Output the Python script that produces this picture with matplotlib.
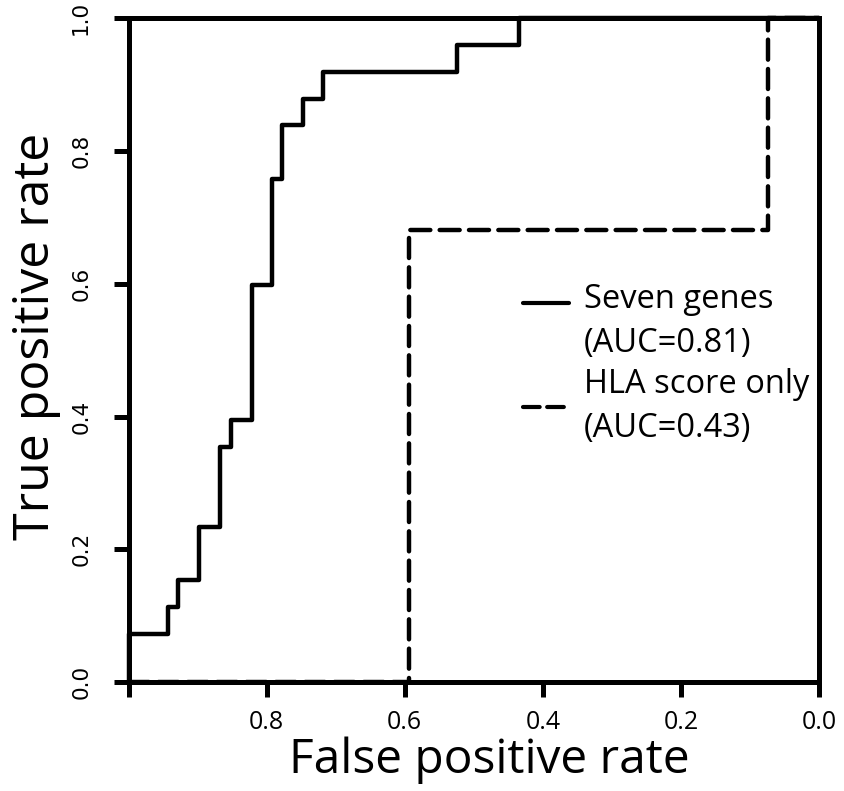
import matplotlib
matplotlib.use("Agg")
import matplotlib.pyplot as plt
from matplotlib.lines import Line2D
from matplotlib.legend_handler import HandlerLine2D

# ROC points (x axis shown reversed, 1.0 -> 0.0)
seven_x = [1.0, 0.9425, 0.928, 0.898, 0.868, 0.852, 0.822, 0.793, 0.778, 0.747, 0.718, 0.525, 0.434, 0.0]
seven_y = [0.0, 0.073, 0.113, 0.154, 0.234, 0.354, 0.395, 0.598, 0.758, 0.839, 0.879, 0.919, 0.959, 1.0]

hla_x = [1.0, 0.594, 0.074, 0.0]
hla_y = [0.0, 0.0, 0.681, 1.0]

labels = ["Seven genes\n(AUC=0.81)", "HLA score only\n(AUC=0.43)"]
xticks = [1.0, 0.8, 0.6, 0.4, 0.2, 0.0]
xticklabels = ["", "0.8", "0.6", "0.4", "0.2", "0.0"]
yticks = [0.0, 0.2, 0.4, 0.6, 0.8, 1.0]
yticklabels = ["0.0", "0.2", "0.4", "0.6", "0.8", "1.0"]

txt_font = ["Open Sans", "DejaVu Sans"]


class ShiftedLine(HandlerLine2D):
    # legend key moved up by dy points
    def __init__(self, dy=0, **kw):
        super().__init__(**kw)
        self.dy = dy

    def create_artists(self, legend, orig_handle, xdescent, ydescent, width, height, fontsize, trans):
        return super().create_artists(legend, orig_handle, xdescent, ydescent - 2 * self.dy,
                                      width, height, fontsize, trans)


fig = plt.figure(figsize=(8.44, 7.91), dpi=100)
ax = fig.add_axes([0.1524, 0.1378, 0.8180, 0.8391])

lw = 3.2
ax.plot(seven_x, seven_y, drawstyle="steps-pre", color="black", lw=lw,
        solid_capstyle="round", solid_joinstyle="round", clip_on=False, zorder=3)
ax.plot(hla_x, hla_y, drawstyle="steps-pre", color="black", lw=lw,
        linestyle=(0, (4.5, 2.1)), dash_capstyle="round", clip_on=False, zorder=3)

ax.set_xlim(1.0, 0.0)
ax.set_ylim(0.0, 1.0)

for s in ax.spines.values():
    s.set_linewidth(3.6)

ax.set_xticks(xticks)
ax.set_xticklabels(xticklabels, fontsize=18, family=txt_font)
ax.set_yticks(yticks)
ax.set_yticklabels(yticklabels, fontsize=15.5, rotation=90, va="center", family="DejaVu Sans")
ax.tick_params(axis="both", direction="out", length=11, width=3.6)
ax.tick_params(axis="x", pad=9)
ax.tick_params(axis="y", pad=16)

ax.set_xlabel("False positive rate", fontsize=34.5, family=txt_font, labelpad=1)
ax.xaxis.label.set_x(0.523)
ax.set_ylabel("True positive rate", fontsize=36, family=txt_font, labelpad=7)
ax.yaxis.label.set_y(0.52)

h_solid = Line2D([], [], color="black", lw=3.0, solid_capstyle="round")
h_dash = Line2D([], [], color="black", lw=3.0, linestyle=(0, (4, 1.8)), dash_capstyle="round")
leg = ax.legend([h_solid, h_dash], labels, loc="upper left", bbox_to_anchor=(0.548, 0.625),
                frameon=False, prop={"family": txt_font, "size": 23.5},
                handlelength=1.4, handletextpad=0.45, labelspacing=0.25, borderpad=0,
                handler_map={h_solid: ShiftedLine(dy=14), h_dash: ShiftedLine(dy=0)})
for t in leg.get_texts():
    t.set_linespacing(1.42)

fig.savefig("out.png", dpi=100)
